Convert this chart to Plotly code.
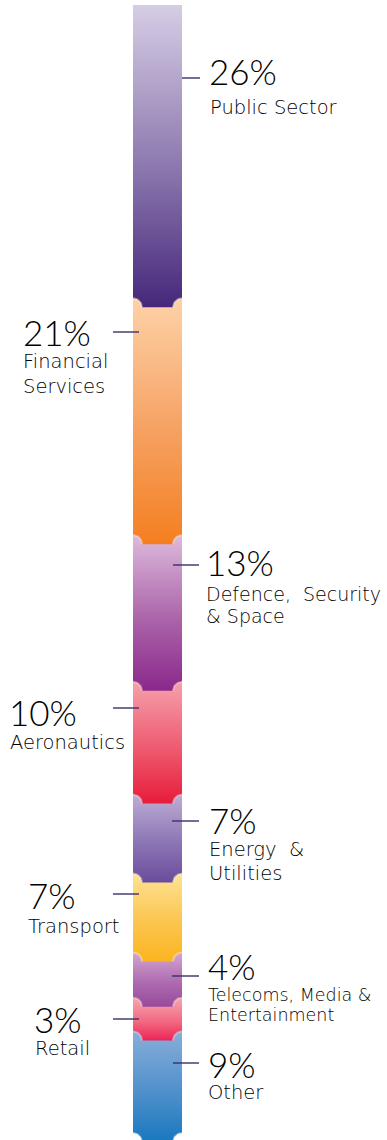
import numpy as np
import plotly.graph_objects as go

# ---- data -------------------------------------------------------------
sectors = ["Public Sector", "Financial Services", "Defence, Security & Space",
           "Aeronautics", "Energy & Utilities", "Transport",
           "Telecoms, Media & Entertainment", "Retail", "Other"]
shares = [26, 21, 13, 10, 7, 7, 4, 3, 9]
share_labels = [f"{v}%" for v in shares]
name_lines = [["Public Sector"], ["Financial", "Services"],
              ["Defence,  Security", "& Space"], ["Aeronautics"],
              ["Energy  &", "Utilities"], ["Transport"],
              ["Telecoms, Media &", "Entertainment"], ["Retail"], ["Other"]]

# ---- styling ----------------------------------------------------------
top_colors = ["#d6cde5", "#fdd2a8", "#ddbadc", "#f6a0ab", "#bcaed4",
              "#fee294", "#d2a6d1", "#f8a6b0", "#88aed9"]
mid_colors = ["#8a76ad", "#f6a060", "#aa62a8", "#ee5a6f", "#8c75b4",
              "#fcc54f", "#ae6bb0", "#f26a82", "#4f90cb"]
bot_colors = ["#46277a", "#f47f20", "#8b288b", "#e71c3a", "#6a4c9c",
              "#fbb41f", "#984a9c", "#ec2456", "#1878bd"]

W, H = 387, 1140
BAR_L, BAR_R = 133, 182          # bar edges (px on x axis)
TOP_PX, PX_PER_PCT = 5, 11.28    # vertical scale of the stack
TAB_PX = 9                        # depth / shoulder width of the tab
LINE_COLOR = "#3b2e6b"
TEXT_COLOR = "#000000"
PCT_FONT = "Lato"
NAME_FONT = "DejaVu Sans"

# leader lines: (x0, x1, y) in px, and label anchors (x, y centre) in px
leader = [(182, 200, 78), (113, 139, 332), (173, 199, 565), (113, 139, 708),
          (172, 199, 821), (113, 139, 894), (172, 199, 976), (113, 139, 1019),
          (173, 199, 1063)]
pct_pos = [(207, 71), (21, 332), (204, 562), (7, 712), (207, 820),
           (26, 895), (206, 966), (32, 1019), (206, 1064)]
name_pos = [(208, 107.5), (21, 361.5), (204, 593.5), (8, 742.5), (207, 849.5),
            (26, 926.5), (206, 994.5), (33, 1048.5), (206, 1092.5)]
name_gap = [0, 25, 22, 0, 24, 0, 20, 0, 0]
name_size = [19.5, 19.5, 19, 19.5, 19.5, 19.5, 17.5, 19.5, 19.5]

y_top_val = -TOP_PX / PX_PER_PCT
y_bot_val = (H - TOP_PX) / PX_PER_PCT
tab = TAB_PX / PX_PER_PCT


def paper_y(py):
    return 1 - py / H


def shoulders(b):
    """Right and left concave shoulder arcs at a segment's bottom edge."""
    theta = np.linspace(0, np.pi / 2, 16)
    rx = BAR_R - TAB_PX * np.sin(theta)
    ry = b + tab - tab * np.cos(theta)
    lx = BAR_L + TAB_PX * np.cos(theta)
    ly = b + tab - tab * np.sin(theta)
    return (rx, ry), (lx, ly)


def segment_outline(t, b):
    """Outline of one segment: flat top, bottom with a notched tab."""
    (rx, ry), (lx, ly) = shoulders(b)
    xs = [BAR_L, BAR_R, BAR_R] + list(rx) + list(lx) + [BAR_L]
    ys = [t, t, b] + list(ry) + list(ly) + [t]
    return xs, ys


tops = np.concatenate([[0], np.cumsum(shares)[:-1]])
bottoms = np.cumsum(shares)

fig = go.Figure()
# draw from the last segment up so each tab overlaps the segment below it
for i in reversed(range(len(shares))):
    xs, ys = segment_outline(tops[i], bottoms[i])
    fig.add_trace(go.Scatter(
        x=xs, y=ys, mode="lines", fill="toself", line=dict(width=0),
        fillgradient=dict(type="vertical",
                          colorscale=[[0, bot_colors[i]], [0.45, mid_colors[i]],
                                      [1, top_colors[i]]]),
        hoverinfo="text", text=f"{sectors[i]}: {shares[i]}%",
        showlegend=False))
    # soft highlight along the shoulders of the tab
    (rx, ry), (lx, ly) = shoulders(bottoms[i])
    for sx, sy in ((rx, ry), (lx, ly)):
        fig.add_trace(go.Scatter(
            x=sx, y=sy, mode="lines", hoverinfo="skip", showlegend=False,
            line=dict(color="rgba(255,255,255,0.35)", width=2)))

for i in range(len(shares)):
    x0, x1, ly = leader[i]
    fig.add_shape(type="line", xref="x", yref="paper", x0=x0, x1=x1,
                  y0=paper_y(ly), y1=paper_y(ly),
                  line=dict(color=LINE_COLOR, width=1.4), layer="above")
    px, py = pct_pos[i]
    fig.add_annotation(x=px, y=paper_y(py), xref="x", yref="paper",
                       text=share_labels[i], showarrow=False,
                       xanchor="left", yanchor="middle",
                       font=dict(family=PCT_FONT, size=35, weight=300,
                                 color=TEXT_COLOR))
    nx, ny = name_pos[i]
    for k, line in enumerate(name_lines[i]):
        fig.add_annotation(x=nx, y=paper_y(ny + k * name_gap[i]), xref="x",
                           yref="paper", text=line, showarrow=False,
                           xanchor="left", yanchor="middle",
                           font=dict(family=NAME_FONT, size=name_size[i],
                                     weight=300, color=TEXT_COLOR))

fig.update_layout(
    width=W, height=H, margin=dict(l=0, r=0, t=0, b=0),
    paper_bgcolor="white", plot_bgcolor="white",
    xaxis=dict(range=[0, W], visible=False, fixedrange=True),
    yaxis=dict(range=[y_bot_val, y_top_val], visible=False, fixedrange=True),
)

fig.write_html("out.html")
